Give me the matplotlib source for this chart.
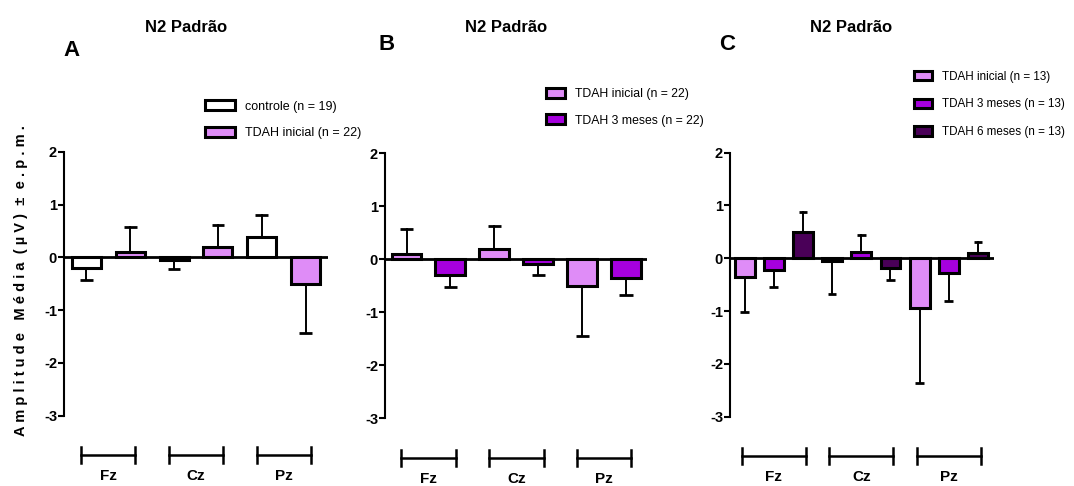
import numpy as np
import matplotlib
matplotlib.use("Agg")
import matplotlib.pyplot as plt
from matplotlib import font_manager
from matplotlib.transforms import blended_transform_factory

# narrow bold face if available
names = {f.name for f in font_manager.fontManager.ttflist}
narrow = "Liberation Sans Narrow" if "Liberation Sans Narrow" in names else "Liberation Sans"
plt.rcParams["font.family"] = [narrow, "DejaVu Sans"]
plt.rcParams["font.weight"] = "bold"

# electrodes
sites = ["Fz", "Cz", "Pz"]

# panel A: controle vs TDAH inicial
a_labels = ["controle (n = 19)", "TDAH inicial (n = 22)"]
a_ctrl = [-0.20, -0.05, 0.39]
a_ctrl_err = [0.23, 0.16, 0.42]
a_ini = [0.10, 0.20, -0.50]
a_ini_err = [0.47, 0.42, 0.94]

# panel B: TDAH inicial vs 3 meses
b_labels = ["TDAH inicial (n = 22)", "TDAH 3 meses (n = 22)"]
b_ini = [0.10, 0.20, -0.50]
b_ini_err = [0.47, 0.42, 0.94]
b_3m = [-0.30, -0.09, -0.35]
b_3m_err = [0.22, 0.21, 0.32]

# panel C: inicial, 3 meses, 6 meses
c_labels = ["TDAH inicial (n = 13)", "TDAH 3 meses (n = 13)", "TDAH 6 meses (n = 13)"]
c_ini = [-0.35, -0.06, -0.94]
c_ini_err = [0.67, 0.62, 1.43]
c_3m = [-0.23, 0.11, -0.27]
c_3m_err = [0.32, 0.33, 0.53]
c_6m = [0.50, -0.19, 0.10]
c_6m_err = [0.38, 0.22, 0.20]

white = "#FFFFFF"
light = "#DF8CF7"
mid = "#A600DE"
dark = "#4A0058"

W, H = 1074, 486
fig = plt.figure(figsize=(W / 100, H / 100), dpi=100)


def px_axes(x0, x1, ytop, ybot):
    return fig.add_axes([x0 / W, 1 - ybot / H, (x1 - x0) / W, (ybot - ytop) / H])


def panel(ax, series, errs, colors, labels, xlim, width, bracket_half, leg_xy, hlen,
          leg_size, spacing, letter_xy, title_xy):
    n = len(series)
    for k, (vals, err, col, lab) in enumerate(zip(series, errs, colors, labels)):
        pos = np.arange(3) * n + k
        ax.bar(pos, vals, width=width, color=col, edgecolor="black", linewidth=2.2,
               label=lab, zorder=3)
        for p, v, e in zip(pos, vals, err):
            end = v + e if v >= 0 else v - e
            ax.plot([p, p], [v, end], color="black", lw=1.4, zorder=2)
            ax.plot([p - 0.22 * width, p + 0.22 * width], [end, end], color="black",
                    lw=2.0, zorder=2, solid_capstyle="butt")
    ax.axhline(0, color="black", lw=2.0, zorder=4)
    ax.set_xlim(*xlim)
    ax.set_ylim(-3, 2)
    ax.set_yticks([-3, -2, -1, 0, 1, 2])
    ax.set_yticklabels(["-3", "-2", "-1", "0", "1", "2"])
    ax.tick_params(axis="y", length=4, width=1.5, labelsize=10.5, pad=1)
    ax.set_xticks([])
    for s in ["top", "right", "bottom"]:
        ax.spines[s].set_visible(False)
    ax.spines["left"].set_linewidth(1.5)
    for lab in ax.get_yticklabels():
        lab.set_fontweight("bold")

    tr = blended_transform_factory(ax.transData, ax.transAxes)
    for g, name in enumerate(sites):
        c = g * n + (n - 1) / 2
        ax.plot([c - bracket_half, c + bracket_half], [-0.15, -0.15], color="black",
                lw=1.8, transform=tr, clip_on=False)
        for xe in (c - bracket_half, c + bracket_half):
            ax.plot([xe, xe], [-0.12, -0.18], color="black", lw=1.8, transform=tr,
                    clip_on=False)
        ax.text(c, -0.23, name, transform=tr, ha="center", va="center",
                fontsize=11, fontweight="bold")

    leg = ax.legend(loc="upper left", bbox_to_anchor=leg_xy, bbox_transform=fig.transFigure,
                    frameon=False, fontsize=leg_size, handlelength=hlen, handleheight=0.9,
                    labelspacing=spacing, handletextpad=0.8, borderaxespad=0)
    for t in leg.get_texts():
        t.set_fontweight("normal")
    fig.text(letter_xy[0] / W, 1 - letter_xy[1] / H, letter_xy[2], fontsize=16,
             fontweight="bold", ha="center", va="center")
    fig.text(title_xy[0] / W, 1 - title_xy[1] / H, "N2 Padrão", fontsize=12,
             fontweight="bold", ha="center", va="center")


axA = px_axes(64, 328, 152, 415.7)
panel(axA, [a_ctrl, a_ini], [a_ctrl_err, a_ini_err], [white, light], a_labels,
      (-0.51, 5.51), 0.66, 0.62, (200 / W, 1 - 95 / H), 2.4, 9.0, 1.15,
      (72, 50, "A"), (186, 28))

axB = px_axes(385, 646.7, 153.3, 418.3)
panel(axB, [b_ini, b_3m], [b_ini_err, b_3m_err], [light, mid], b_labels,
      (-0.49, 5.47), 0.68, 0.62, (541 / W, 1 - 83 / H), 1.6, 8.8, 1.15,
      (387, 45, "B"), (506, 28))

axC = px_axes(730, 994, 152.7, 416.7)
panel(axC, [c_ini, c_3m, c_6m], [c_ini_err, c_3m_err, c_6m_err], [light, mid, dark],
      c_labels, (-0.5, 8.55), 0.68, 1.1, (909 / W, 1 - 66 / H), 1.6, 8.4, 1.35,
      (727, 45, "C"), (851, 28))

fig.text(21 / W, 1 - 281 / H,
         "A m p l i t u d e   M é d i a  ( µ V )  ±  e . p . m .",
         rotation=90, ha="center", va="center", fontsize=10.5, fontweight="bold",
         family=["Liberation Sans", "DejaVu Sans"])

fig.savefig("out.png", dpi=100)
